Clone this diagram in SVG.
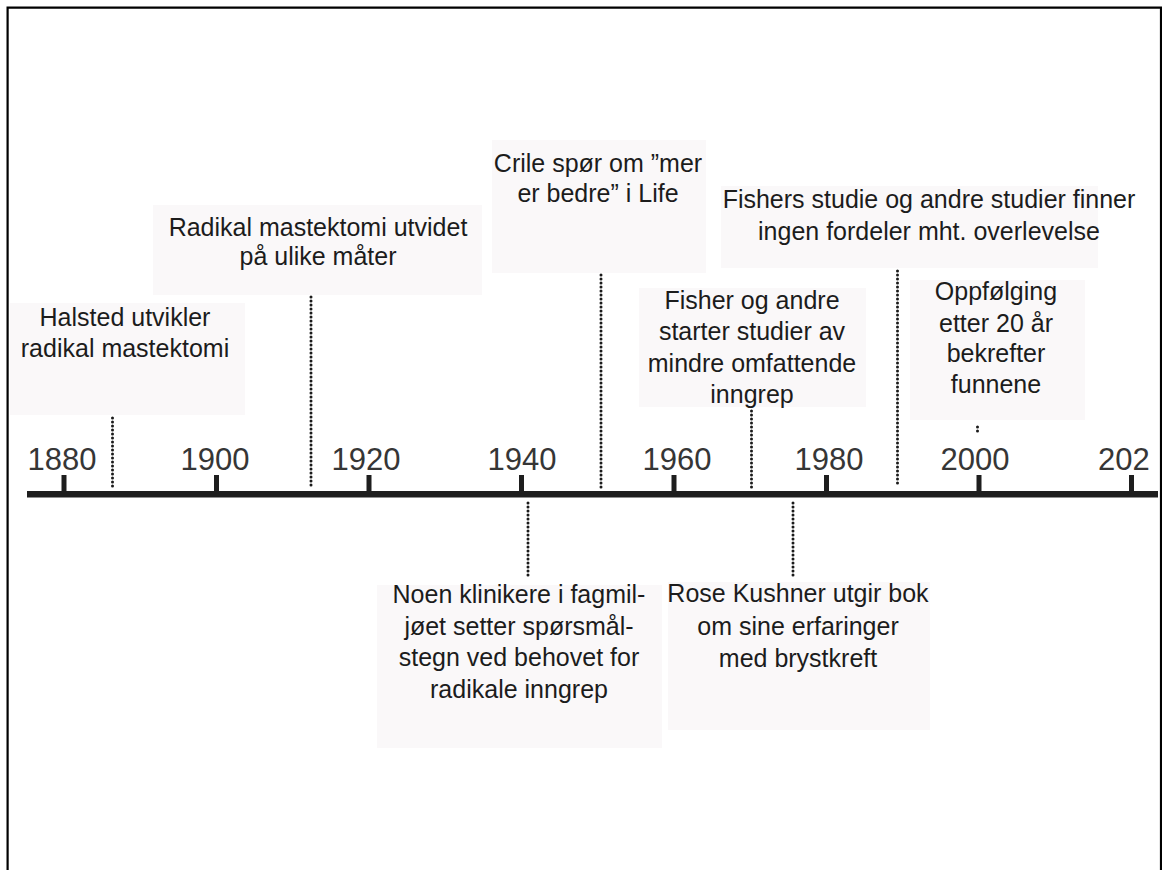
<svg xmlns="http://www.w3.org/2000/svg" width="1162" height="870" viewBox="0 0 1162 870">
<style>
  .box { fill: #faf8f9; }
  .lbl { font-family: "Liberation Sans", Arial, sans-serif; font-size: 25px; fill: #1c1c1c; text-anchor: middle; }
  .yr { font-family: "Liberation Sans", Arial, sans-serif; font-size: 31px; fill: #363636; text-anchor: middle; }
  .dot { stroke: #1a1a1a; stroke-width: 3; stroke-linecap: round; stroke-dasharray: 0 4; fill: none; }
  .tick { fill: #1e1e1e; }
</style>
<rect width="1162" height="870" fill="#ffffff"/>
<path d="M7.6,870 V7.6 H1161 V870" fill="none" stroke="#000" stroke-width="2.2"/>

<g id="axis">
  <rect x="27" y="491" width="1131" height="6.5" fill="#1e1e1e"/>
  <rect class="tick" x="61.5" y="475" width="5" height="17"/>
  <rect class="tick" x="214" y="475" width="5" height="17"/>
  <rect class="tick" x="366.5" y="475" width="5" height="17"/>
  <rect class="tick" x="519" y="475" width="5" height="17"/>
  <rect class="tick" x="671.5" y="475" width="5" height="17"/>
  <rect class="tick" x="824" y="475" width="5" height="17"/>
  <rect class="tick" x="976.5" y="475" width="5" height="17"/>
  <rect class="tick" x="1129" y="475" width="5" height="17"/>
  <text class="yr" x="62" y="470">1880</text>
  <text class="yr" x="215" y="470">1900</text>
  <text class="yr" x="366" y="470">1920</text>
  <text class="yr" x="522" y="470">1940</text>
  <text class="yr" x="677" y="470">1960</text>
  <text class="yr" x="829" y="470">1980</text>
  <text class="yr" x="975" y="470">2000</text>
  <text class="yr" x="1098" y="470" style="text-anchor:start">202</text>
</g>

<g id="connectors">
  <line class="dot" x1="112.5" y1="418" x2="112.5" y2="489"/>
  <line class="dot" x1="311" y1="297" x2="311" y2="489"/>
  <line class="dot" x1="601" y1="275" x2="601" y2="489"/>
  <line class="dot" x1="751.5" y1="411" x2="751.5" y2="489"/>
  <line class="dot" x1="897.5" y1="271" x2="897.5" y2="487"/>
  <line class="dot" x1="977.5" y1="427" x2="977.5" y2="433"/>
  <line class="dot" x1="528" y1="503" x2="528" y2="578"/>
  <line class="dot" x1="793" y1="503" x2="793" y2="578"/>
</g>

<g id="node-halsted">
  <rect class="box" x="10" y="303" width="235" height="112"/>
  <text class="lbl" x="125" y="326">Halsted utvikler</text>
  <text class="lbl" x="125" y="357">radikal mastektomi</text>
</g>

<g id="node-radikal">
  <rect class="box" x="153" y="205" width="329" height="90"/>
  <text class="lbl" x="318" y="236">Radikal mastektomi utvidet</text>
  <text class="lbl" x="318" y="265">på ulike måter</text>
</g>

<g id="node-crile">
  <rect class="box" x="492" y="140" width="214" height="133"/>
  <text class="lbl" x="598" y="172">Crile spør om ”mer</text>
  <text class="lbl" x="598" y="202">er bedre” i Life</text>
</g>

<g id="node-fishers-studie">
  <rect class="box" x="721" y="186" width="377" height="82"/>
  <text class="lbl" x="929" y="208">Fishers studie og andre studier finner</text>
  <text class="lbl" x="929" y="240">ingen fordeler mht. overlevelse</text>
</g>

<g id="node-fisher-andre">
  <rect class="box" x="639" y="288" width="227" height="119"/>
  <text class="lbl" x="752" y="309">Fisher og andre</text>
  <text class="lbl" x="752" y="340">starter studier av</text>
  <text class="lbl" x="752" y="372">mindre omfattende</text>
  <text class="lbl" x="752" y="403">inngrep</text>
</g>

<g id="node-oppfolging">
  <rect class="box" x="910" y="280" width="175" height="140"/>
  <text class="lbl" x="996" y="300">Oppfølging</text>
  <text class="lbl" x="996" y="332">etter 20 år</text>
  <text class="lbl" x="996" y="362">bekrefter</text>
  <text class="lbl" x="996" y="393">funnene</text>
</g>

<g id="node-noen">
  <rect class="box" x="377" y="585" width="285" height="163"/>
  <text class="lbl" x="519" y="603">Noen klinikere i fagmil-</text>
  <text class="lbl" x="519" y="635">jøet setter spørsmål-</text>
  <text class="lbl" x="519" y="666">stegn ved behovet for</text>
  <text class="lbl" x="519" y="698">radikale inngrep</text>
</g>

<g id="node-rose">
  <rect class="box" x="668" y="582" width="262" height="148"/>
  <text class="lbl" x="798" y="602">Rose Kushner utgir bok</text>
  <text class="lbl" x="798" y="635">om sine erfaringer</text>
  <text class="lbl" x="798" y="667">med brystkreft</text>
</g>
</svg>
